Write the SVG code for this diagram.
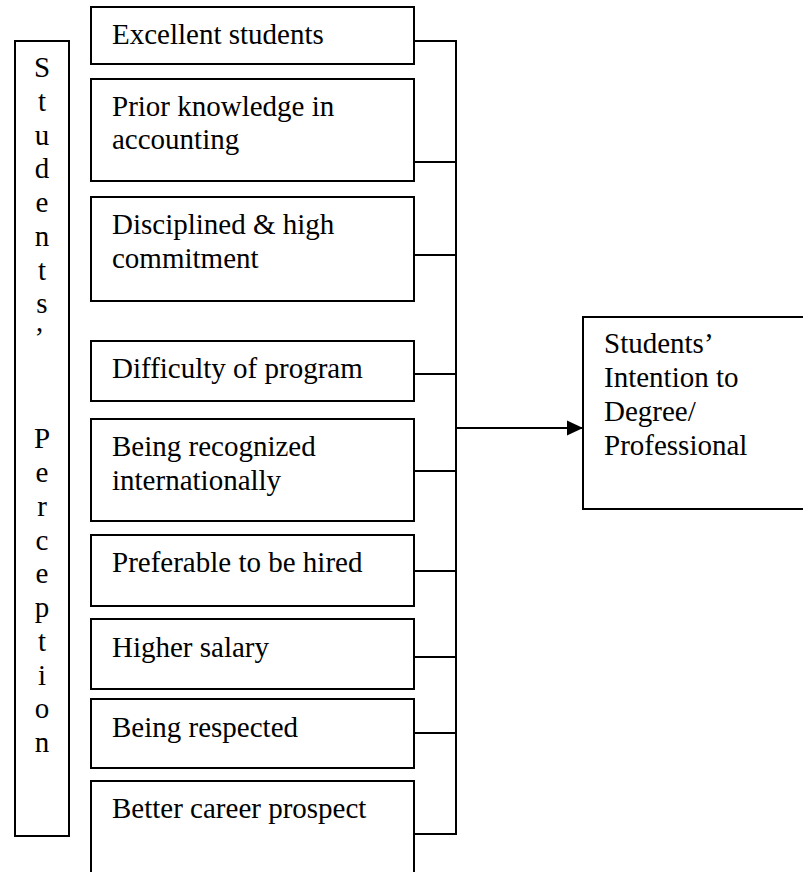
<svg xmlns="http://www.w3.org/2000/svg" width="803" height="872" viewBox="0 0 803 872">
<style>
.box{fill:#fff;stroke:#000;stroke-width:2}
.t{font-family:"Liberation Serif","Times New Roman",serif;font-size:29px;fill:#000}
.c{fill:none;stroke:#000;stroke-width:2}
.v{text-anchor:middle}
</style>
<defs>
<marker id="arr" markerWidth="16" markerHeight="16" refX="16" refY="8" orient="auto" markerUnits="userSpaceOnUse">
<path d="M0,0.5 L16,8 L0,15.5 Z" fill="#000"/>
</marker>
</defs>
<g id="perception">
<rect class="box" x="15" y="41" width="54" height="795"/>
<text class="t v" x="42">
<tspan x="42" y="77">S</tspan><tspan x="42" y="111">t</tspan><tspan x="42" y="145">u</tspan><tspan x="42" y="178">d</tspan><tspan x="42" y="212">e</tspan><tspan x="42" y="246">n</tspan><tspan x="42" y="280">t</tspan><tspan x="42" y="313">s</tspan><tspan x="42" y="347">’</tspan>
<tspan x="42" y="448">P</tspan><tspan x="42" y="482">e</tspan><tspan x="42" y="516">r</tspan><tspan x="42" y="550">c</tspan><tspan x="42" y="583">e</tspan><tspan x="42" y="617">p</tspan><tspan x="42" y="651">t</tspan><tspan x="42" y="685">i</tspan><tspan x="42" y="718">o</tspan><tspan x="42" y="752">n</tspan>
</text>
</g>
<g id="n1"><rect class="box" x="91" y="7" width="323" height="57"/><text class="t" x="112" y="44">Excellent students</text></g>
<g id="n2"><rect class="box" x="91" y="79" width="323" height="102"/><text class="t" x="112" y="116">Prior knowledge in<tspan x="112" y="149">accounting</tspan></text></g>
<g id="n3"><rect class="box" x="91" y="197" width="323" height="104"/><text class="t" x="112" y="234">Disciplined &amp; high<tspan x="112" y="268">commitment</tspan></text></g>
<g id="n4"><rect class="box" x="91" y="341" width="323" height="60"/><text class="t" x="112" y="378">Difficulty of program</text></g>
<g id="n5"><rect class="box" x="91" y="419" width="323" height="102"/><text class="t" x="112" y="456">Being recognized<tspan x="112" y="490">internationally</tspan></text></g>
<g id="n6"><rect class="box" x="91" y="535" width="323" height="71"/><text class="t" x="112" y="572">Preferable to be hired</text></g>
<g id="n7"><rect class="box" x="91" y="619" width="323" height="70"/><text class="t" x="112" y="657">Higher salary</text></g>
<g id="n8"><rect class="box" x="91" y="699" width="323" height="69"/><text class="t" x="112" y="737">Being respected</text></g>
<g id="n9"><rect class="box" x="91" y="781" width="323" height="95"/><text class="t" x="112" y="818">Better career prospect</text></g>
<g id="target"><rect class="box" x="583" y="317" width="230" height="192"/><text class="t" x="604" y="353">Students’<tspan x="604" y="387">Intention to</tspan><tspan x="604" y="421">Degree/</tspan><tspan x="604" y="455">Professional</tspan></text></g>
<g id="connectors">
<path class="c" d="M414,41 H456 V834 H414"/>
<path class="c" d="M414,162 H456 M414,255 H456 M414,374 H456 M414,471 H456 M414,571 H456 M414,657 H456 M414,733 H456"/>
<path class="c" d="M456,428 H583" marker-end="url(#arr)"/>
</g>
</svg>
